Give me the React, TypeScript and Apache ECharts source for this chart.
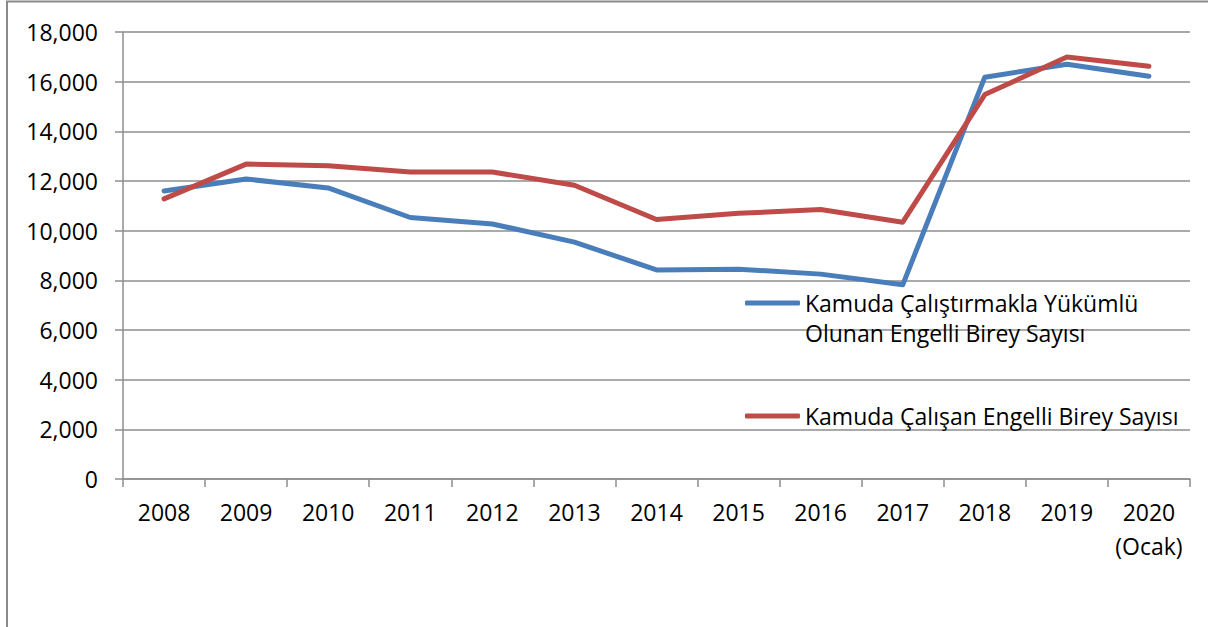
import React, { useEffect, useRef } from "react";
import * as echarts from "echarts";

const categories = ["2008", "2009", "2010", "2011", "2012", "2013", "2014", "2015", "2016", "2017", "2018", "2019", "2020\n(Ocak)"];
const obligedName = "Kamuda Çalıştırmakla Yükümlü Olunan Engelli Birey Sayısı";
const employedName = "Kamuda Çalışan Engelli Birey Sayısı";
const obligedValues = [11600, 12080, 11720, 10530, 10270, 9540, 8420, 8450, 8250, 7820, 16180, 16700, 16220];
const employedValues = [11280, 12680, 12610, 12360, 12360, 11830, 10450, 10700, 10850, 10340, 15480, 16990, 16620];
const yTicks = { min: 0, max: 18000, interval: 2000 };

const FONT = "'Open Sans', 'Noto Sans', sans-serif";
const FONT_SIZE = 23;
const GRID_COLOR = "#8E8E8E";

export default function App() {
  const ref = useRef<HTMLDivElement>(null);
  useEffect(() => {
    if (!ref.current) return;
    const chart = echarts.init(ref.current, null, { renderer: "svg" });
    chart.setOption({
      animation: false,
      backgroundColor: "#ffffff",
      textStyle: { fontFamily: FONT },
      graphic: [
        {
          type: "rect",
          shape: { x: 7, y: 1.5, width: 1240, height: 660 },
          style: { fill: "none", stroke: "#8A8A8A", lineWidth: 2 },
          silent: true,
        },
      ],
      grid: { left: 123, right: 18, top: 32, bottom: 148, containLabel: false },
      xAxis: {
        type: "category",
        data: categories,
        boundaryGap: true,
        axisLine: { show: true, lineStyle: { color: GRID_COLOR, width: 1.5 } },
        axisTick: { show: true, length: 8, alignWithLabel: false, lineStyle: { color: GRID_COLOR, width: 1.5 } },
        axisLabel: { color: "#000", fontSize: FONT_SIZE, fontFamily: FONT, lineHeight: 34, margin: 16, interval: 0 },
        splitLine: { show: false },
      },
      yAxis: {
        type: "value",
        min: yTicks.min,
        max: yTicks.max,
        interval: yTicks.interval,
        axisLine: { show: true, lineStyle: { color: GRID_COLOR, width: 1.5 } },
        axisTick: { show: true, length: 8, lineStyle: { color: GRID_COLOR, width: 1.5 } },
        axisLabel: {
          color: "#000",
          fontSize: FONT_SIZE,
          fontFamily: FONT,
          margin: 25,
          formatter: (v: number) => v.toLocaleString("en-US"),
        },
        splitLine: { show: true, lineStyle: { color: GRID_COLOR, width: 1.5 } },
      },
      legend: [
        {
          data: [obligedName],
          left: 745,
          top: 258,
          padding: 0,
          itemWidth: 55,
          itemHeight: 5,
          icon: "roundRect",
          formatter: () => "\nKamuda Çalıştırmakla Yükümlü\nOlunan Engelli Birey Sayısı",
          textStyle: { color: "#000", fontSize: FONT_SIZE, fontFamily: FONT, lineHeight: 30 },
        },
        {
          data: [employedName],
          left: 745,
          top: 401,
          padding: 0,
          itemWidth: 55,
          itemHeight: 5,
          icon: "roundRect",
          textStyle: { color: "#000", fontSize: FONT_SIZE, fontFamily: FONT, lineHeight: 30 },
        },
      ],
      series: [
        {
          name: obligedName,
          type: "line",
          data: obligedValues,
          symbol: "none",
          color: "#4A7EBB",
          lineStyle: { width: 5, color: "#4A7EBB", cap: "round", join: "round" },
        },
        {
          name: employedName,
          type: "line",
          data: employedValues,
          symbol: "none",
          color: "#BE4B48",
          lineStyle: { width: 5, color: "#BE4B48", cap: "round", join: "round" },
        },
      ],
    });
    return () => chart.dispose();
  }, []);
  return <div ref={ref} style={{ position: "fixed", left: 0, top: 0, width: 1208, height: 627 }} />;
}
